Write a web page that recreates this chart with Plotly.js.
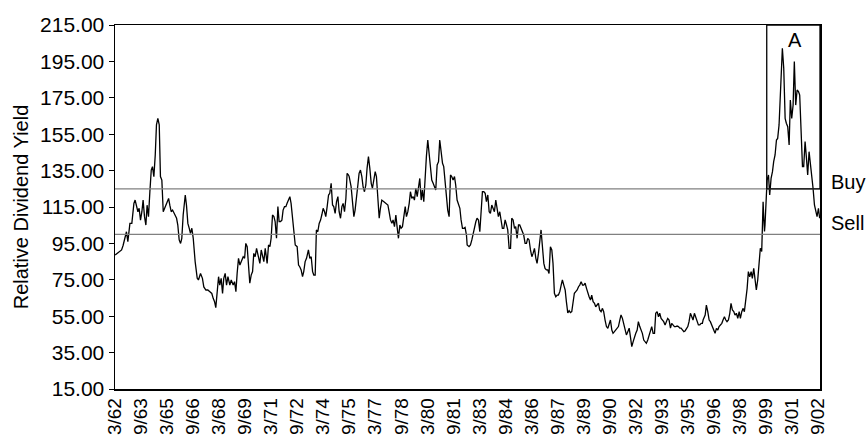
<!DOCTYPE html>
<html>
<head>
<meta charset="utf-8">
<script src="https://cdn.plot.ly/plotly-3.0.1.min.js"></script>
<style>html,body{margin:0;padding:0;background:#fff;}#chart{width:866px;height:438px;}</style>
</head>
<body>
<div id="chart"></div>
<script>
// Dates as decimal years (month 3 of 1962 = 1962.17), values = relative dividend yield
const dates = [
1962.17,1962.29,1962.40,1962.54,1962.63,1962.75,1962.82,1962.90,1963.02,1963.13,1963.25,1963.32,1963.40,1963.48,1963.55,1963.63,1963.71,1963.78,1963.86,1963.94,
1964.01,1964.09,1964.17,1964.25,1964.32,1964.40,1964.48,1964.55,1964.63,1964.71,1964.78,1964.86,1964.94,1965.05,1965.17,1965.25,1965.32,1965.40,1965.48,1965.59,
1965.71,1965.78,1965.86,1965.94,1966.01,1966.09,1966.21,1966.28,1966.36,1966.44,1966.51,1966.59,1966.67,1966.78,1966.90,1966.97,1967.09,1967.20,1967.28,1967.40,
1967.51,1967.63,1967.74,1967.82,1967.90,1967.97,1968.05,1968.13,1968.20,1968.28,1968.36,1968.43,1968.51,1968.59,1968.67,1968.78,
1968.86,1968.97,1969.05,1969.13,1969.20,1969.28,1969.36,1969.47,1969.55,1969.63,1969.70,1969.78,1969.86,1969.93,1970.01,1970.09,1970.16,1970.24,1970.32,1970.43,
1970.51,1970.59,1970.66,1970.74,1970.82,1970.93,1971.01,1971.09,1971.16,1971.24,1971.32,1971.39,1971.47,1971.55,1971.62,1971.70,1971.78,1971.85,1971.93,1972.01,
1972.08,1972.16,1972.24,1972.31,1972.39,1972.47,1972.55,1972.66,1972.74,1972.81,1972.89,1972.97,1973.04,1973.12,1973.20,1973.31,1973.39,1973.47,1973.55,1973.62,
1973.70,1973.77,1973.85,1973.93,1974.01,1974.08,1974.16,1974.24,1974.31,1974.39,1974.47,1974.54,1974.62,1974.70,1974.77,1974.85,1974.93,1975.01,1975.08,1975.16,
1975.24,1975.31,1975.39,1975.47,1975.54,1975.62,
1975.66,1975.77,1975.85,1975.93,1976.00,1976.08,1976.16,1976.23,1976.31,1976.39,1976.46,1976.54,1976.62,1976.69,1976.77,1976.85,1976.93,1977.00,1977.08,1977.16,
1977.23,1977.31,1977.39,1977.46,1977.54,1977.66,1977.77,1977.89,1977.96,1978.04,1978.12,1978.19,1978.27,1978.35,1978.42,1978.50,1978.58,1978.65,1978.73,1978.81,
1978.89,1978.96,1979.04,1979.12,1979.19,1979.27,1979.35,1979.42,1979.50,1979.58,1979.65,1979.73,1979.81,1979.88,1979.96,1980.04,1980.11,1980.19,1980.27,1980.35,
1980.42,1980.50,1980.58,1980.65,1980.73,1980.81,1980.88,1980.96,1981.04,1981.11,1981.19,1981.27,1981.34,1981.42,1981.50,1981.57,1981.65,1981.73,1981.80,1981.88,
1981.96,1982.04,1982.11,1982.19,1982.27,1982.34,1982.42,
1982.46,1982.57,1982.65,1982.73,1982.80,1982.88,1982.96,1983.03,1983.11,1983.19,1983.27,1983.34,1983.42,1983.50,1983.57,1983.65,1983.73,1983.80,1983.88,1983.96,
1984.03,1984.11,1984.19,1984.26,1984.34,1984.42,1984.49,1984.57,1984.65,1984.73,1984.80,1984.88,1984.96,1985.03,1985.11,1985.19,1985.26,1985.34,1985.42,1985.49,
1985.57,1985.65,1985.72,1985.80,1985.88,1985.95,1986.03,1986.11,1986.19,1986.26,1986.34,1986.42,1986.49,1986.57,1986.65,1986.72,1986.80,1986.88,1986.95,1987.03,
1987.11,1987.18,1987.26,1987.34,1987.41,1987.49,1987.57,1987.65,1987.72,1987.80,1987.88,1987.95,1988.03,1988.11,1988.18,1988.26,1988.34,1988.41,1988.49,1988.57,
1988.64,1988.72,1988.80,1988.88,1988.95,1989.03,1989.11,1989.18,1989.26,
1989.34,1989.41,1989.49,1989.57,1989.64,1989.72,1989.80,1989.87,1989.95,1990.03,1990.10,1990.18,1990.26,1990.33,1990.41,1990.49,1990.57,1990.64,1990.72,1990.80,
1990.87,1990.95,1991.03,1991.10,1991.18,1991.26,1991.33,1991.41,1991.49,1991.56,1991.64,1991.72,1991.80,1991.87,1991.95,1992.03,1992.10,1992.18,1992.26,1992.33,
1992.41,1992.49,1992.56,1992.64,1992.72,1992.79,1992.87,1992.95,1993.02,1993.10,1993.18,1993.26,1993.33,1993.41,1993.49,1993.56,1993.64,1993.72,1993.79,1993.87,
1993.95,1994.02,1994.10,1994.18,1994.25,1994.33,1994.41,1994.49,1994.56,1994.64,1994.72,1994.79,1994.87,1994.95,1995.02,1995.10,1995.18,1995.25,1995.33,1995.41,
1995.48,1995.56,1995.64,1995.71,1995.79,1995.87,1995.95,1996.02,
1996.06,1996.18,1996.25,1996.33,1996.41,1996.48,1996.56,1996.64,1996.75,1996.83,1996.91,1996.98,1997.06,1997.14,1997.21,1997.29,1997.37,1997.44,1997.52,1997.60,
1997.67,1997.75,1997.83,1997.90,1997.98,1998.06,1998.14,1998.21,1998.29,1998.37,1998.44,1998.52,1998.60,1998.67,1998.75,1998.83,1998.90,1998.98,1999.06,1999.13,
1999.21,1999.29,1999.36,1999.44,1999.48,1999.52,1999.56,1999.60,1999.63,1999.67,1999.71,1999.75,1999.83,1999.90,1999.98,2000.06,2000.13,2000.21,2000.29,2000.36,
2000.44,2000.52,2000.59,2000.63,2000.71,2000.79,2000.86,2000.94,2001.02,2001.09,2001.17,2001.25,2001.32,2001.40,2001.48,2001.56,2001.63,2001.71,2001.79,2001.86,
2001.94,2002.02,2002.09,2002.17,2002.25,2002.32,2002.40,2002.48,2002.55,2002.63,2002.71,2002.78
];
const relYield = [
88.6,89.5,90.4,91.4,94.0,98.7,101.4,96.0,106.0,106.0,117.0,118.8,116.0,112.4,114.3,107.8,112.4,118.8,109.7,105.1,
116.0,109.7,123.4,135.3,137.2,131.7,143.6,160.1,163.7,160.1,131.7,129.8,112.4,115.2,118.8,119.7,116.0,112.4,113.3,111.5,
108.8,105.1,96.9,95.0,97.8,110.6,121.6,116.0,106.0,103.3,100.5,103.3,97.8,85.0,75.8,74.9,78.5,75.8,71.1,69.4,
69.4,68.4,67.5,64.8,63.0,59.7,68.4,76.7,72.1,75.8,67.5,75.8,78.5,72.1,76.7,72.1,
74.9,72.1,74.0,68.5,78.5,86.8,83.1,85.9,87.7,86.8,95.0,93.2,82.2,73.1,77.6,79.5,89.5,87.7,92.3,86.8,
84.0,91.4,88.6,85.0,92.3,84.0,94.1,93.2,97.8,110.6,109.7,107.0,97.8,115.2,107.0,107.0,107.8,113.3,115.2,115.2,
117.0,118.8,120.7,117.0,107.8,98.7,94.1,93.2,83.1,82.2,80.4,76.7,79.5,85.0,86.8,91.4,86.8,87.7,79.5,77.6,
77.6,102.4,101.4,106.0,107.8,110.6,114.3,112.4,109.7,115.2,121.6,122.5,128.0,116.1,115.2,111.5,117.9,120.7,112.4,108.8,
115.2,117.0,112.4,119.7,133.5,132.6,
131.7,126.2,115.2,109.7,113.3,118.8,127.1,133.5,135.3,131.7,126.2,123.4,127.1,136.2,142.7,136.2,128.0,125.3,130.7,134.4,
131.7,122.5,108.8,114.3,118.8,117.9,117.0,116.1,112.4,107.9,106.0,107.9,104.2,110.6,104.2,97.8,105.1,103.3,104.2,109.7,
115.2,109.7,112.4,117.0,123.4,119.8,120.7,118.8,125.3,120.7,127.1,130.7,118.8,124.3,117.9,132.6,142.7,151.8,144.5,133.5,
129.8,128.0,126.2,124.3,138.1,139.9,151.8,144.5,139.0,137.2,128.0,120.7,113.3,109.7,132.6,131.7,129.8,131.7,127.1,118.8,
116.1,114.3,107.9,103.3,103.3,103.8,99.6,
94.1,93.2,94.1,96.9,100.5,104.2,106.9,108.8,107.9,101.4,113.3,123.4,123.4,122.5,117.9,121.6,112.4,111.5,116.1,114.3,
112.4,118.8,114.3,109.7,112.4,106.9,103.3,103.3,107.9,105.1,102.4,92.3,92.3,108.8,107.9,103.3,104.2,97.8,105.1,105.1,
103.3,101.4,99.6,95.0,95.0,97.8,96.9,91.4,87.7,89.5,92.3,86.8,84.0,89.5,96.0,102.4,93.2,84.0,81.3,80.4,
80.4,78.5,93.2,91.4,84.0,67.6,65.7,66.6,66.6,68.5,72.1,74.9,72.1,69.4,63.0,56.8,58.0,57.0,57.5,62.1,
67.6,68.5,69.4,71.2,72.1,74.0,72.1,72.1,73.1,
70.3,67.6,65.7,63.9,66.6,63.0,62.1,60.2,61.2,62.1,58.4,57.5,59.3,57.5,52.9,49.3,48.4,50.2,52.9,47.4,
45.6,46.5,47.4,47.8,49.3,52.9,55.7,53.8,51.1,47.4,44.7,46.5,48.4,43.8,38.3,41.0,43.8,45.6,47.4,52.0,
49.3,47.4,45.6,41.9,41.0,40.1,41.9,44.7,46.5,49.3,45.6,45.6,56.6,57.5,54.7,56.6,53.8,52.9,52.0,50.2,
52.9,53.8,52.9,48.4,51.1,50.2,49.3,49.3,49.6,49.3,48.4,48.4,47.4,46.5,46.9,47.8,49.3,52.0,56.6,54.7,
52.9,56.6,54.7,52.0,50.2,50.2,51.1,51.1,
52.9,55.6,61.1,57.5,52.9,52.0,50.2,48.3,45.6,48.3,47.4,49.3,50.2,51.1,52.9,54.7,52.9,52.0,52.9,56.6,
62.1,58.4,57.5,55.6,56.6,53.8,57.5,53.8,57.5,59.3,57.5,63.9,70.3,79.5,76.7,79.5,75.8,81.3,73.1,69.4,
74.9,86.8,92.3,90.5,99.6,117.9,108.8,101.5,105.1,117.9,125.3,129.8,132.6,121.6,130.7,134.4,139.9,143.6,151.8,152.7,
160.1,176.5,193.0,202.2,191.2,163.7,161.0,159.1,149.1,173.8,163.7,171.0,194.9,171.0,179.3,178.4,176.5,156.4,137.2,137.2,
150.9,141.7,132.6,145.4,139.0,130.7,125.3,116.1,113.4,109.7,114.3,108.8
];
const tickLabels = ['3/62','9/63','3/65','9/66','3/68','9/69','3/71','9/72','3/74','9/75','3/77','9/78','3/80','9/81',
  '3/83','9/84','3/86','9/87','3/89','9/90','3/92','9/93','3/95','9/96','3/98','9/99','3/01','9/02'];
const yTicks = [15,35,55,75,95,115,135,155,175,195,215];
const buyLevel = 125;
const sellLevel = 100;
const zoneAStart = 1999.73;
const xEnd = 2002.80;

function labelToYear(s){
  const p = s.split('/');
  const m = parseInt(p[0],10), yy = parseInt(p[1],10);
  const y = yy < 50 ? 2000 + yy : 1900 + yy;
  return y + (m - 1) / 12;
}
const tickVals = tickLabels.map(labelToYear);

const font = 'Arial, "Liberation Sans", Helvetica, sans-serif';

const trace = {
  x: dates, y: relYield, type: 'scatter', mode: 'lines',
  line: {color: '#000', width: 1.3}, hoverinfo: 'skip', showlegend: false
};

const layout = {
  width: 866, height: 438,
  margin: {l: 115, r: 46, t: 25, b: 49, autoexpand: false},
  paper_bgcolor: '#fff', plot_bgcolor: '#fff',
  font: {family: font, color: '#000', size: 20},
  showlegend: false,
  xaxis: {
    range: [1962.16, xEnd], tickmode: 'array', tickvals: tickVals, ticktext: tickLabels,
    tickangle: -90, tickfont: {family: font, size: 19, color: '#000'},
    showline: true, mirror: true, linecolor: '#000', linewidth: 1.5,
    showgrid: false, zeroline: false, ticks: '', fixedrange: true
  },
  yaxis: {
    range: [15, 215], tickmode: 'array', tickvals: yTicks, tickformat: '.2f',
    tickfont: {family: font, size: 21, color: '#000'},
    ticks: 'outside', ticklen: 5, tickcolor: '#000', tickwidth: 1,
    showline: true, mirror: true, linecolor: '#000', linewidth: 1.5,
    showgrid: false, zeroline: false, fixedrange: true,
    title: {text: 'Relative Dividend Yield', font: {family: font, size: 20, color: '#000'}, standoff: 6}
  },
  shapes: [
    {type: 'line', xref: 'paper', yref: 'y', x0: 0, x1: 1, y0: buyLevel, y1: buyLevel, line: {color: '#808080', width: 1.3}},
    {type: 'line', xref: 'paper', yref: 'y', x0: 0, x1: 1, y0: sellLevel, y1: sellLevel, line: {color: '#808080', width: 1.3}},
    {type: 'rect', xref: 'x', yref: 'y', x0: zoneAStart, x1: xEnd, y0: buyLevel, y1: 215, line: {color: '#000', width: 1.3}, fillcolor: 'rgba(0,0,0,0)'}
  ],
  annotations: [
    {text: 'Buy', xref: 'paper', yref: 'y', x: 1.013, y: 128.7, xanchor: 'left', yanchor: 'middle', showarrow: false, font: {family: font, size: 20, color: '#000'}},
    {text: 'Sell', xref: 'paper', yref: 'y', x: 1.013, y: 106.2, xanchor: 'left', yanchor: 'middle', showarrow: false, font: {family: font, size: 20, color: '#000'}},
    {text: 'A', xref: 'x', yref: 'y', x: 2001.36, y: 206.8, xanchor: 'center', yanchor: 'middle', showarrow: false, font: {family: font, size: 20, color: '#000'}}
  ]
};

Plotly.newPlot('chart', [trace], layout, {staticPlot: true, displayModeBar: false});
</script>
</body>
</html>
